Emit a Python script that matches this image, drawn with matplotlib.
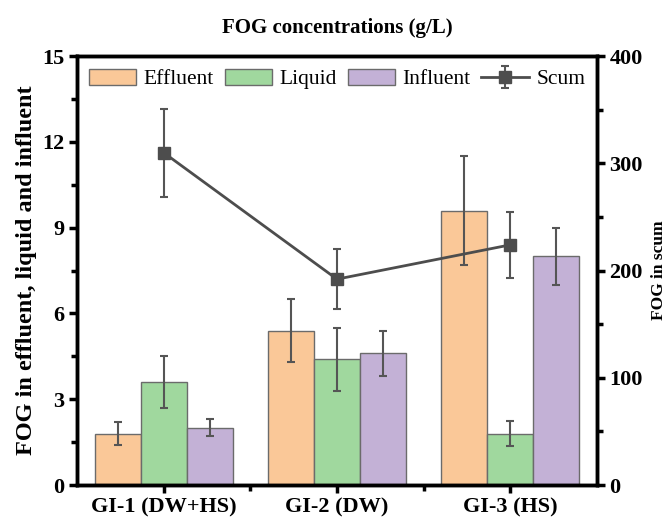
import matplotlib
matplotlib.use("Agg")
import matplotlib.pyplot as plt
import numpy as np
from matplotlib.ticker import MultipleLocator, FixedLocator

plt.rcParams['font.family'] = ['Liberation Serif', 'DejaVu Serif']

# Data
categories = ["GI-1 (DW+HS)", "GI-2 (DW)", "GI-3 (HS)"]
effluent = [1.8, 5.4, 9.6]
effluent_err = [0.4, 1.1, 1.9]
liquid = [3.6, 4.4, 1.8]
liquid_err = [0.9, 1.1, 0.45]
influent = [2.0, 4.6, 8.0]
influent_err = [0.3, 0.8, 1.0]
scum = [310, 192, 224]
scum_err = [41, 28, 31]

x = np.arange(len(categories))
w = 0.265
edge = "#6b6b6b"
errc = "#555555"

fig = plt.figure(figsize=(6.67, 5.2), dpi=100)
ax = fig.add_axes([0.1154, 0.0673, 0.7796, 0.8247])

ekw = dict(ecolor=errc, elinewidth=1.5, capsize=3, capthick=1.5)
b1 = ax.bar(x - w, effluent, w, yerr=effluent_err, color="#fac898", edgecolor=edge, linewidth=1, error_kw=ekw, label="Effluent")
b2 = ax.bar(x, liquid, w, yerr=liquid_err, color="#a0d89e", edgecolor=edge, linewidth=1, error_kw=ekw, label="Liquid")
b3 = ax.bar(x + w, influent, w, yerr=influent_err, color="#c3b1d6", edgecolor=edge, linewidth=1, error_kw=ekw, label="Influent")

ax.set_xlim(-0.5, 2.5)
ax.set_ylim(0, 15)
ax.yaxis.set_major_locator(MultipleLocator(3))
ax.yaxis.set_minor_locator(MultipleLocator(1.5))
ax.set_xticks(x)
ax.set_xticklabels(categories, fontweight="bold", fontsize=16)
ax.xaxis.set_minor_locator(FixedLocator([0.5, 1.5]))
for lab in ax.get_yticklabels():
    lab.set_fontweight("bold")
    lab.set_fontsize(16)
ax.tick_params(axis="both", which="major", direction="out", length=6, width=2.5, pad=3)
ax.tick_params(axis="both", which="minor", direction="out", length=4, width=2.5)
ax.set_ylabel("FOG in effluent, liquid and influent", fontsize=17.5, fontweight="bold", labelpad=4)
ax.set_title("FOG concentrations (g/L)", fontsize=15, fontweight="bold", y=1.035)
for s in ax.spines.values():
    s.set_linewidth(2.5)

ax2 = ax.twinx()
ln = ax2.errorbar(x, scum, yerr=scum_err, color="#4d4d4d", marker="s", markersize=9, linewidth=2,
                  ecolor=errc, elinewidth=1.5, capsize=3, capthick=1.5, label="Scum")
ax2.set_ylim(0, 400)
ax2.yaxis.set_major_locator(MultipleLocator(100))
ax2.yaxis.set_minor_locator(MultipleLocator(50))
for lab in ax2.get_yticklabels():
    lab.set_fontweight("bold")
    lab.set_fontsize(16)
ax2.tick_params(axis="y", which="major", direction="out", length=6, width=2.5, pad=3)
ax2.tick_params(axis="y", which="minor", direction="out", length=4, width=2.5)
ax2.set_ylabel("FOG in scum", fontsize=12.5, fontweight="bold", labelpad=6)
for s in ax2.spines.values():
    s.set_linewidth(2.5)

handles = [b1, b2, b3, ln]
ax.legend(handles, ["Effluent", "Liquid", "Influent", "Scum"], loc="upper center", ncol=4, frameon=False,
          fontsize=15.5, handlelength=2.2, handleheight=0.75, columnspacing=0.5, handletextpad=0.35,
          borderaxespad=0.2, bbox_to_anchor=(0.5, 1.0))

fig.savefig("out.png", dpi=100)
